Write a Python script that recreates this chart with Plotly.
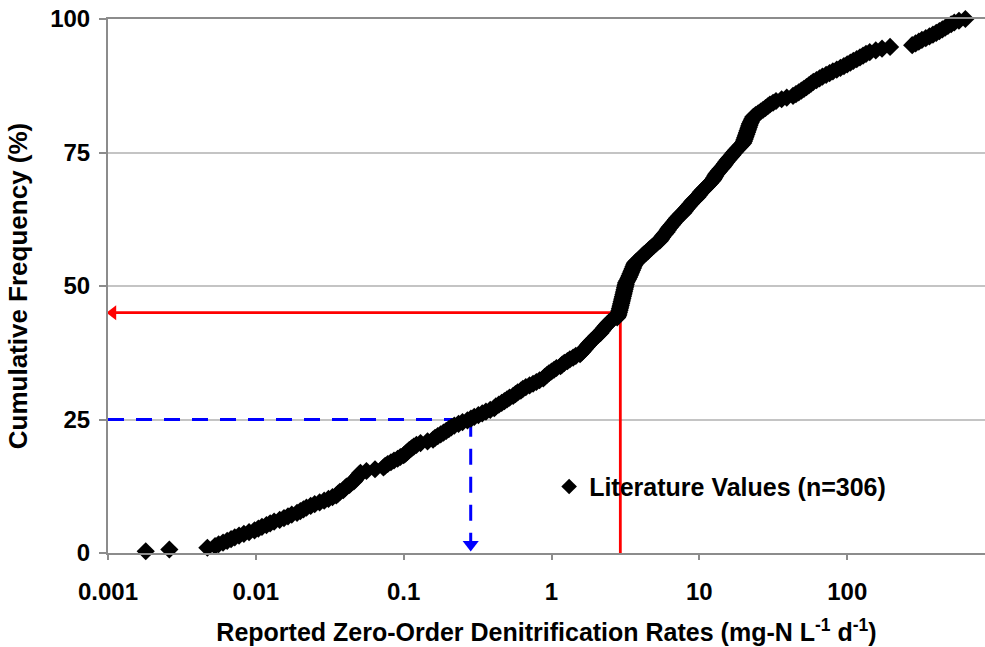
import math
import plotly.graph_objects as go

# Sorted literature rates (mg-N L-1 d-1), n = 306
rates = [
    0.0018, 0.0026, 0.0047,
    0.0053, 0.0056, 0.0060,
    0.0064, 0.0068, 0.0072, 0.0077, 0.0083, 0.0090, 0.0098,
    0.0104, 0.0110, 0.0118, 0.0125, 0.0133, 0.0145,
    0.0155, 0.0165, 0.0175, 0.0190, 0.0200, 0.0210,
    0.022, 0.0235, 0.025, 0.027, 0.029, 0.031, 0.033,
    0.035, 0.036, 0.037, 0.039, 0.040, 0.041, 0.043, 0.044, 0.046, 0.047, 0.048, 0.049, 0.050, 0.051,
    0.056, 0.064, 0.073,
    0.075, 0.078, 0.082, 0.086, 0.091, 0.095,
    0.100, 0.103, 0.106, 0.109, 0.113, 0.117,
    0.122, 0.130, 0.145, 0.158,
    0.163, 0.170, 0.178, 0.186, 0.194, 0.202, 0.210,
    0.22, 0.235, 0.25, 0.27,
    0.285, 0.30, 0.32, 0.34, 0.36, 0.385, 0.41,
    0.42, 0.44, 0.46, 0.48, 0.50, 0.52, 0.55, 0.57, 0.59, 0.62,
    0.64, 0.67, 0.71, 0.75, 0.79, 0.83, 0.88,
    0.90, 0.93, 0.96, 1.00, 1.04, 1.08, 1.15,
    1.18, 1.22, 1.28, 1.33, 1.40, 1.46, 1.56,
    1.60, 1.64, 1.68, 1.72, 1.76, 1.80, 1.85, 1.90, 1.95, 2.00, 2.07, 2.14,
    2.18, 2.22, 2.27, 2.32, 2.38, 2.44, 2.52, 2.60, 2.78,
    2.82, 2.84, 2.86, 2.88, 2.90, 2.92, 2.94, 2.96, 2.98, 3.00,
    3.02, 3.04, 3.06, 3.08, 3.10, 3.12, 3.14, 3.16, 3.18, 3.20,
    3.25, 3.30, 3.34, 3.38, 3.42, 3.46, 3.50, 3.54, 3.58, 3.62, 3.66,
    3.75, 3.90, 4.00, 4.10, 4.20, 4.35, 4.50, 4.60, 4.75, 4.90, 5.05, 5.20, 5.40,
    5.50, 5.60, 5.70, 5.85, 6.00, 6.10, 6.20, 6.35, 6.50, 6.65, 6.80, 6.95, 7.10, 7.30, 7.50, 7.80,
    7.95, 8.10, 8.30, 8.50, 8.70, 8.90, 9.10, 9.40, 9.70,
    9.9, 10.1, 10.3, 10.6, 10.9, 11.2, 11.5, 11.8, 12.1, 12.4,
    12.6, 12.8, 13.0, 13.3, 13.6, 13.9, 14.3,
    14.6, 14.9, 15.2, 15.5, 15.9, 16.3, 16.7, 17.0,
    17.4, 17.8, 18.3, 18.8, 19.3, 19.8,
    20.0, 20.2, 20.4, 20.6, 20.8, 21.0, 21.2, 21.4, 21.6, 21.8, 22.0, 22.3, 22.6, 22.9, 23.2,
    24, 25, 26, 27, 28, 29, 30, 31.5,
    33, 36, 39, 43,
    45, 47, 49, 51, 53, 55, 57, 59,
    62, 65, 68, 72, 76, 80, 85, 90,
    95, 100, 105, 110, 116, 122, 128, 134,
    142, 156, 172, 195,
    275, 290, 305, 320, 340, 360, 380, 400, 420, 440, 460, 480, 505, 530, 570, 630,
]

# Cumulative frequency (%) of each ranked value
n = len(rates)
cum_freq = [100.0 * (i + 1) / n for i in range(n)]

# Guide lines: red at 45 %, blue dashed at the lower quartile
red_rate, red_pct = 2.92, 45
blue_rate, blue_pct = 0.284, 25

x_min, x_max = 0.001, 855.0
x_tickvals = [0.001, 0.01, 0.1, 1, 10, 100]
x_ticktext = ["0.001", "0.01", "0.1", "1", "10", "100"]
y_tickvals = [0, 25, 50, 75, 100]

FONT = "Arial, 'Liberation Sans', Helvetica, sans-serif"
RED = "#ff0000"
BLUE = "#0000ff"
AXIS_GREY = "#8c8c8c"

fig = go.Figure()

# Red guide: vertical rise, then horizontal run to the y axis
fig.add_trace(go.Scatter(
    x=[red_rate, red_rate, x_min * 1.08], y=[0, red_pct, red_pct],
    mode="lines", line=dict(color=RED, width=2.8),
    showlegend=False, hoverinfo="skip", cliponaxis=False,
))
# Red arrow head (pointing left)
fig.add_trace(go.Scatter(
    x=[x_min * 1.08], y=[red_pct], mode="markers",
    marker=dict(symbol="triangle-left", size=13, color=RED, line=dict(width=0)),
    showlegend=False, hoverinfo="skip", cliponaxis=False,
))

# Blue dashed guide: horizontal run, then drop to the x axis
fig.add_trace(go.Scatter(
    x=[x_min, blue_rate, blue_rate], y=[blue_pct, blue_pct, 2.0],
    mode="lines", line=dict(color=BLUE, width=3, dash="16px,12px"),
    showlegend=False, hoverinfo="skip", cliponaxis=False,
))
# Blue arrow head (pointing down)
fig.add_trace(go.Scatter(
    x=[blue_rate], y=[1.6], mode="markers",
    marker=dict(symbol="triangle-down", size=14, color=BLUE, line=dict(width=0)),
    showlegend=False, hoverinfo="skip", cliponaxis=False,
))

# Literature values
fig.add_trace(go.Scatter(
    x=rates, y=cum_freq, mode="markers",
    marker=dict(symbol="diamond", size=14, color="black"),
    name="Literature Values (n=306)", cliponaxis=False,
))

fig.update_layout(
    width=985, height=647,
    margin=dict(l=108, r=0, t=19, b=94),
    paper_bgcolor="white", plot_bgcolor="white",
    font=dict(family=FONT, color="black"),
    showlegend=True,
    legend=dict(
        x=0.503, y=0.124, xanchor="left", yanchor="middle",
        bgcolor="rgba(0,0,0,0)", itemsizing="constant",
        font=dict(family=FONT, size=25, color="black", weight="bold"),
    ),
    xaxis=dict(
        type="log", range=[math.log10(x_min), math.log10(x_max)],
        tickvals=x_tickvals, ticktext=x_ticktext,
        ticks="outside", ticklen=5, tickcolor=AXIS_GREY, tickwidth=1.5,
        ticklabelstandoff=11,
        showline=True, linecolor=AXIS_GREY, linewidth=2, mirror=True,
        showgrid=False, zeroline=False,
        tickfont=dict(family=FONT, size=24, color="black", weight="bold"),
        title=dict(
            text="Reported Zero-Order Denitrification Rates (mg-N L<sup>-1</sup> d<sup>-1</sup>)",
            font=dict(family=FONT, size=25, color="black", weight="bold"),
            standoff=20,
        ),
    ),
    yaxis=dict(
        range=[0, 100], tickvals=y_tickvals,
        ticks="outside", ticklen=7, tickcolor=AXIS_GREY, tickwidth=1.5,
        ticklabelstandoff=4,
        showline=True, linecolor=AXIS_GREY, linewidth=2,
        showgrid=True, gridcolor="#c4c4c4", gridwidth=1.5, zeroline=False,
        tickfont=dict(family=FONT, size=24, color="black", weight="bold"),
        title=dict(
            text="Cumulative Frequency (%)",
            font=dict(family=FONT, size=26, color="black", weight="bold"),
            standoff=15,
        ),
    ),
)

fig.write_html("out.html")
